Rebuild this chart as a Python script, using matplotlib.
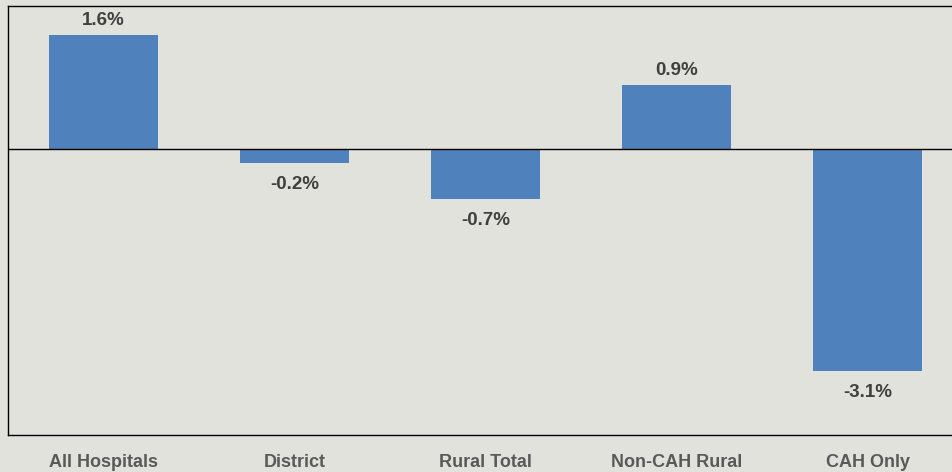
import matplotlib
matplotlib.use("Agg")
import matplotlib.pyplot as plt

categories = ["All Hospitals", "District", "Rural Total", "Non-CAH Rural", "CAH Only"]
values = [1.6, -0.2, -0.7, 0.9, -3.1]

bg = "#e2e2dc"
bar_color = "#4f81bd"

plt.rcParams["font.family"] = ["Liberation Sans", "DejaVu Sans"]

fig = plt.figure(figsize=(9.52, 4.72), dpi=100, facecolor=bg)
ax = fig.add_axes([8 / 952, 1 - 435 / 472, 955 / 952, 429 / 472])
ax.set_facecolor(bg)

x = range(len(categories))
ax.bar(x, values, width=0.57, color=bar_color, zorder=2)
ax.axhline(0, color="black", linewidth=1.0, zorder=3)

ax.set_xlim(-0.5, 4.5)
ax.set_ylim(-4.0, 2.0)

for xi, v in zip(x, values):
    if v >= 0:
        ax.text(xi, v + 0.08, f"{v:.1f}%", ha="center", va="bottom",
                fontsize=13.5, fontweight="bold", color="#404040")
    else:
        ax.text(xi, v - 0.18, f"{v:.1f}%", ha="center", va="top",
                fontsize=13.5, fontweight="bold", color="#404040")

ax.set_xticks(list(x))
ax.set_xticklabels(categories, fontsize=13, fontweight="bold", color="#595959")
ax.tick_params(axis="x", length=0, pad=14)
ax.set_yticks([])

for side in ["left", "top", "bottom"]:
    ax.spines[side].set_color("black")
    ax.spines[side].set_linewidth(1.0)
ax.spines["right"].set_visible(False)

fig.savefig("out.png", dpi=100, facecolor=bg)
